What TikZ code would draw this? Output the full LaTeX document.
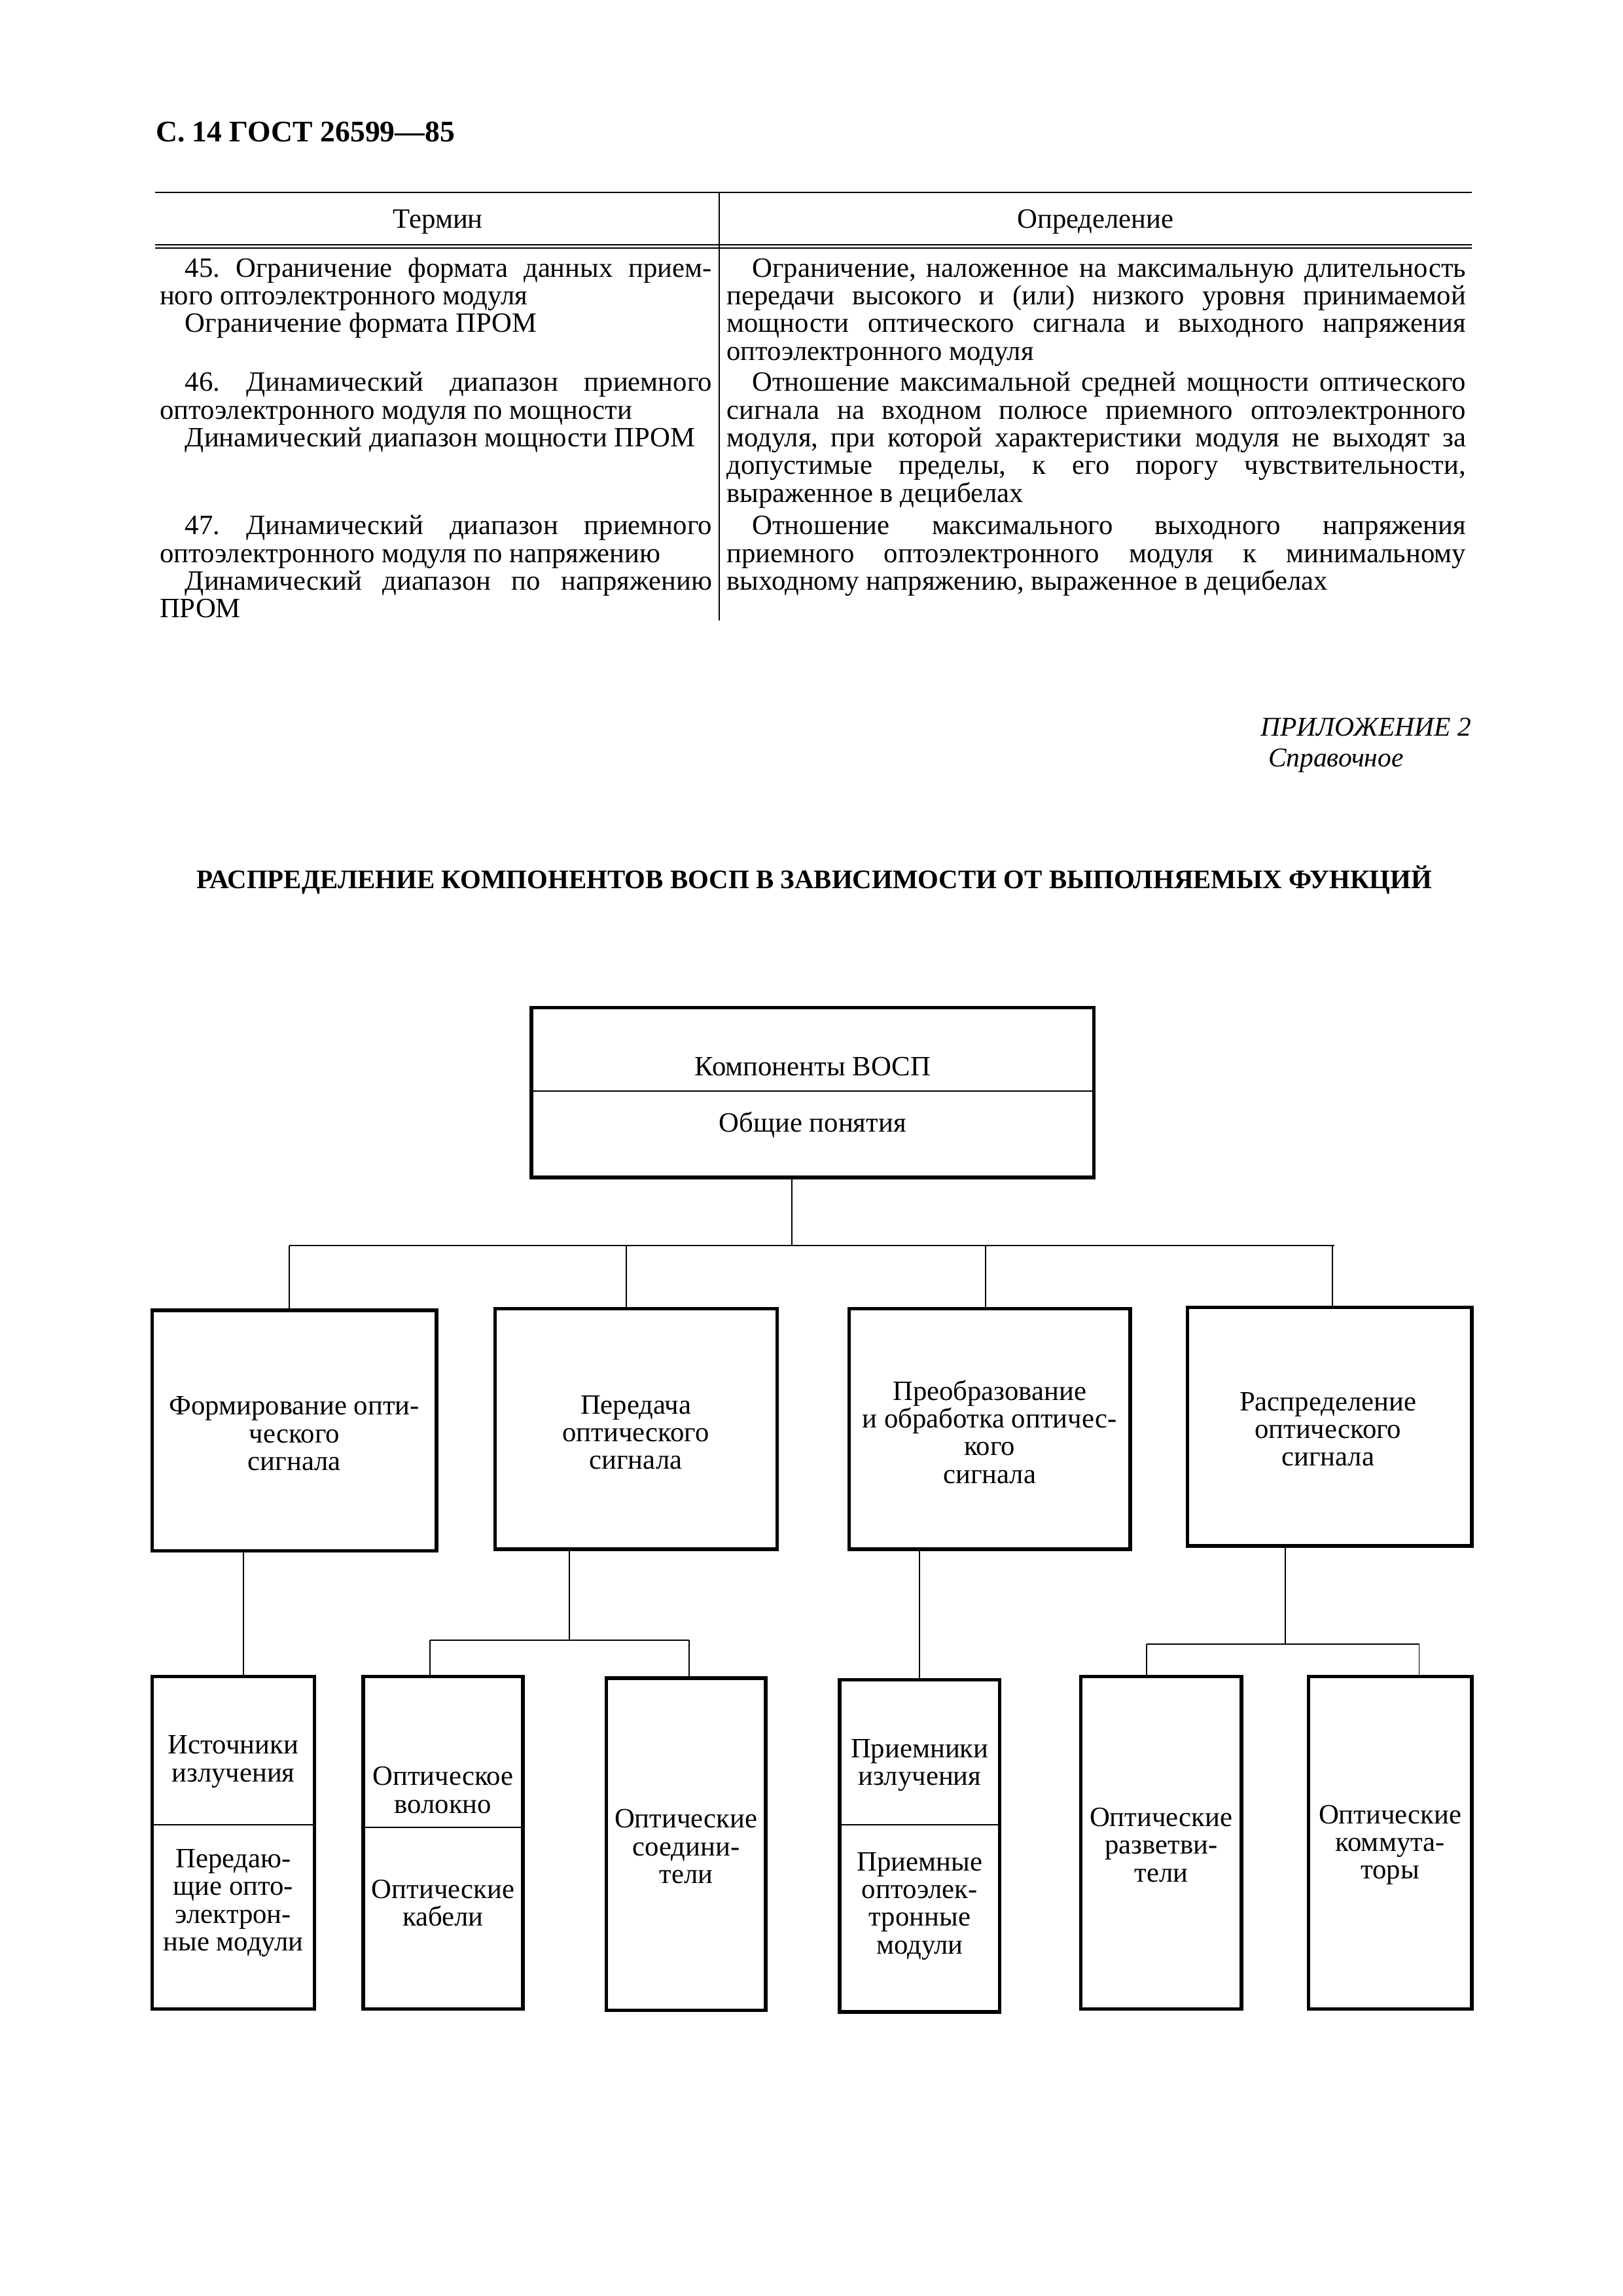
\documentclass[tikz,border=0pt]{standalone}
\usepackage{fontspec}
\setmainfont{Liberation Serif}
\usetikzlibrary{positioning}

\tikzset{
  blok/.style={draw, line width=1.3pt, inner sep=0pt},
  svjaz/.style={line width=0.45pt},
  razdel/.style={line width=0.5pt},
  linija/.style={line width=0.45pt},
  nadpis/.style={align=center, inner sep=0pt},
  levaja/.style={anchor=base west, inner sep=0pt, text width=7.15cm, align=justify},
  pravaja/.style={anchor=base west, inner sep=0pt, text width=9.57cm, align=justify},
}
\newcommand{\abz}{\hspace*{0.33cm}}
\frenchspacing

\begin{document}
\begin{tikzpicture}[font=\fontsize{10.3}{10.2}\selectfont]

  % 0. Рамка страницы
  \fill[white] (0,0) rectangle (21,-29.717);
  \useasboundingbox (0,0) rectangle (21,-29.717);

  % 1. Шапка страницы
  \node[anchor=base west, inner sep=0pt, font=\fontsize{11}{13}\selectfont\bfseries] (shapka) at (2.01,-1.83) {С. 14 ГОСТ 26599—85};

  % 2. Таблица терминов
  \draw[linija] (2.01,-2.49) -- (19.05,-2.49);
  \draw[linija] (2.01,-3.165) -- (19.05,-3.165);
  \draw[linija] (2.01,-3.21) -- (19.05,-3.21);
  \draw[linija] (9.31,-2.49) -- (9.31,-8.03);

  \node[anchor=base, inner sep=0pt] (termin) at (5.67,-2.95) {Термин};
  \node[anchor=base, inner sep=0pt] (opred) at (14.18,-2.95) {Определение};

  % Статья 45
  \node[levaja] (t45) at (2.06,-3.585) {\tolerance=9999\hyphenpenalty=10000
    \abz 45. Ограничение формата данных прием-\linebreak ного оптоэлектронного модуля\par
    \abz Ограничение формата ПРОМ};
  \node[pravaja] (o45) at (9.40,-3.585) {\tolerance=9999\hyphenpenalty=10000
    \abz Ограничение, наложенное на максимальную длительность\linebreak
    передачи высокого и (или) низкого уровня принимаемой\linebreak
    мощности оптического сигнала и выходного напряжения\linebreak
    оптоэлектронного модуля};

  % Статья 46
  \node[levaja] (t46) at (2.06,-5.065) {\tolerance=9999\hyphenpenalty=10000
    \abz 46. Динамический диапазон приемного\linebreak оптоэлектронного модуля по мощности\par
    \abz Динамический диапазон мощности ПРОМ};
  \node[pravaja] (o46) at (9.40,-5.065) {\tolerance=9999\hyphenpenalty=10000
    \abz Отношение максимальной средней мощности оптического\linebreak
    сигнала на входном полюсе приемного оптоэлектронного\linebreak
    модуля, при которой характеристики модуля не выходят за\linebreak
    допустимые пределы, к его порогу чувствительности,\linebreak
    выраженное в децибелах};

  % Статья 47
  \node[levaja] (t47) at (2.06,-6.92) {\tolerance=9999\hyphenpenalty=10000
    \abz 47. Динамический диапазон приемного\linebreak оптоэлектронного модуля по напряжению\par
    \abz Динамический диапазон по напряжению\linebreak ПРОМ};
  \node[pravaja] (o47) at (9.40,-6.92) {\tolerance=9999\hyphenpenalty=10000
    \abz Отношение максимального выходного напряжения\linebreak
    приемного оптоэлектронного модуля к минимальному\linebreak
    выходному напряжению, выраженное в децибелах};

  % 3. Приложение и заголовок
  \node[anchor=base east, inner sep=0pt, font=\itshape] (pril) at (19.05,-9.53) {ПРИЛОЖЕНИЕ 2};
  \node[anchor=base west, inner sep=0pt, font=\itshape] (sprav) at (16.41,-9.92) {Справочное};
  \node[anchor=base, inner sep=0pt, font=\fontsize{9.85}{12}\selectfont\bfseries] (zagl) at (10.54,-11.50)
    {РАСПРЕДЕЛЕНИЕ КОМПОНЕНТОВ ВОСП В ЗАВИСИМОСТИ ОТ ВЫПОЛНЯЕМЫХ ФУНКЦИЙ};

  % 4. Верхний блок
  \node[blok, minimum width=7.28cm, minimum height=2.20cm] (vosp) at (10.52,-14.14) {};
  \draw[razdel] (vosp.west |- 0,-14.12) -- (vosp.east |- 0,-14.12);
  \node[nadpis] (vosp1) at (10.52,-13.80) {Компоненты ВОСП};
  \node[nadpis] (vosp2) at (10.52,-14.56) {Общие понятия};

  % 5. Блоки функций
  \node[blok, minimum width=3.68cm, minimum height=3.11cm] (form) at (3.81,-18.515) {};
  \node[blok, minimum width=3.65cm, minimum height=3.11cm] (pered) at (8.235,-18.495) {};
  \node[blok, minimum width=3.64cm, minimum height=3.11cm] (preob) at (12.81,-18.495) {};
  \node[blok, minimum width=3.68cm, minimum height=3.09cm] (raspr) at (17.21,-18.465) {};

  \node[nadpis] (form1) at (3.81,-18.555) {Формирование опти-\\ческого\\сигнала};
  \node[nadpis] (pered1) at (8.23,-18.54) {Передача\\оптического\\сигнала};
  \node[nadpis] (preob1) at (12.81,-18.53) {Преобразование\\и обработка оптичес-\\кого\\сигнала};
  \node[nadpis] (raspr1) at (17.19,-18.50) {Распределение\\оптического\\сигнала};

  % 6. Блоки компонентов
  \node[blok, minimum width=2.10cm, minimum height=4.30cm] (istoch) at (3.02,-23.85) {};
  \node[blok, minimum width=2.07cm, minimum height=4.30cm] (volok) at (5.735,-23.85) {};
  \node[blok, minimum width=2.06cm, minimum height=4.30cm] (soed) at (8.88,-23.87) {};
  \node[blok, minimum width=2.07cm, minimum height=4.30cm] (priem) at (11.905,-23.89) {};
  \node[blok, minimum width=2.08cm, minimum height=4.30cm] (razv) at (15.03,-23.85) {};
  \node[blok, minimum width=2.11cm, minimum height=4.30cm] (komm) at (17.995,-23.85) {};

  \draw[razdel] (istoch.west |- 0,-23.62) -- (istoch.east |- 0,-23.62);
  \draw[razdel] (volok.west |- 0,-23.65) -- (volok.east |- 0,-23.65);
  \draw[razdel] (priem.west |- 0,-23.62) -- (priem.east |- 0,-23.62);

  \node[nadpis] (istoch1) at (3.02,-22.80) {Источники\\излучения};
  \node[nadpis] (istoch2) at (3.02,-24.63) {Передаю-\\щие опто-\\электрон-\\ные модули};
  \node[nadpis] (volok1) at (5.735,-23.17) {Оптическое\\волокно};
  \node[nadpis] (volok2) at (5.735,-24.63) {Оптические\\кабели};
  \node[nadpis] (soed1) at (8.88,-23.90) {Оптические\\соедини-\\тели};
  \node[nadpis] (priem1) at (11.905,-22.85) {Приемники\\излучения};
  \node[nadpis] (priem2) at (11.905,-24.67) {Приемные\\оптоэлек-\\тронные\\модули};
  \node[nadpis] (razv1) at (15.03,-23.88) {Оптические\\разветви-\\тели};
  \node[nadpis] (komm1) at (17.995,-23.88) {Оптические\\коммута-\\торы};

  % 7. Связи верхнего уровня
  \coordinate (shina) at (10.25,-16.12);
  \coordinate (shinaL) at (3.745,-16.12);
  \coordinate (shinaR) at (17.27,-16.12);
  \draw[svjaz] (vosp.south -| shina) -- (shina);
  \draw[svjaz] (shinaL) -- (shinaR);
  \draw[svjaz] (shinaL) -- (shinaL |- form.north);
  \draw[svjaz] (8.11,-16.12) -- (8.11,-16.12 |- pered.north);
  \draw[svjaz] (12.76,-16.12) -- (12.76,-16.12 |- preob.north);
  \draw[svjaz] (17.25,-16.12) -- (17.25,-16.12 |- raspr.north);

  % 8. Связи нижнего уровня
  \coordinate (s1) at (3.15,-21.70);
  \draw[svjaz] (form.south -| s1) -- (s1);

  \coordinate (s2) at (7.37,-21.23);
  \coordinate (s2L) at (5.565,-21.23);
  \coordinate (s2R) at (8.92,-21.23);
  \draw[svjaz] (pered.south -| s2) -- (s2);
  \draw[svjaz] (s2L) -- (s2R);
  \draw[svjaz] (s2L) -- (s2L |- volok.north);
  \draw[svjaz] (s2R) -- (s2R |- soed.north);

  \draw[svjaz] (preob.south -| priem.north) -- (priem.north);

  \coordinate (s4) at (16.64,-21.28);
  \coordinate (s4L) at (14.84,-21.28);
  \coordinate (s4R) at (18.37,-21.28);
  \draw[svjaz] (raspr.south -| s4) -- (s4);
  \draw[svjaz] (s4L) -- (s4R);
  \draw[svjaz] (s4L) -- (s4L |- razv.north);
  \draw[svjaz] (s4R) -- (s4R |- komm.north);

\end{tikzpicture}
\end{document}
